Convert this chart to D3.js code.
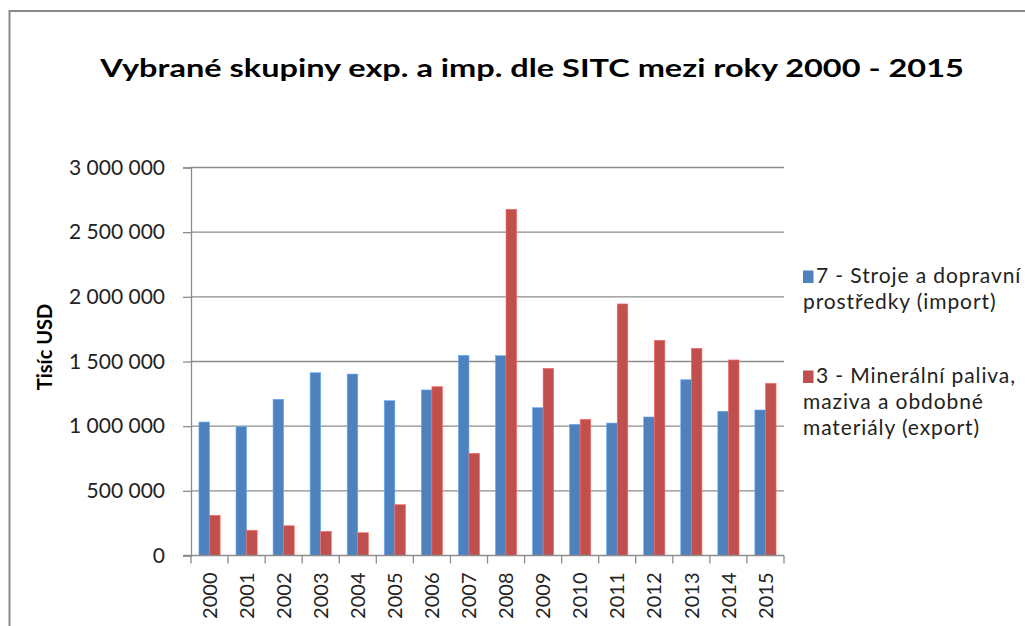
<html>

<head>
    <style>
        body { margin: 0; background: white; }
        text { font-family: Lato, "Open Sans", sans-serif; }
    </style>
</head>

<body>
    <svg id="container" height="626" width="1025">
        <g id="body" transform="translate(0,0)"></g>
    </svg>
</body>
<script src="https://cdn.jsdelivr.net/npm/d3@7"></script>
<script>
    // data (tisíc USD)
    let years = ["2000", "2001", "2002", "2003", "2004", "2005", "2006", "2007",
                 "2008", "2009", "2010", "2011", "2012", "2013", "2014", "2015"]
    let importValues = [1032000, 996000, 1208000, 1413000, 1403000, 1197000, 1280000, 1548000,
                        1545000, 1143000, 1014000, 1024000, 1071000, 1359000, 1115000, 1125000]
    let exportValues = [311000, 195000, 230000, 187000, 176000, 393000, 1305000, 790000,
                        2677000, 1447000, 1053000, 1945000, 1664000, 1602000, 1512000, 1331000]
    let seriesNames = ["import", "export"]
    let seriesColors = ["#4F81BD", "#C0504D"]
    let legendLines = [
        ["7 - Stroje a dopravní", "prostředky (import)"],
        ["3 - Minerální paliva,", "maziva a obdobné", "materiály (export)"]
    ]
    let yTicks = [0, 500000, 1000000, 1500000, 2000000, 2500000, 3000000]

    let body = d3.select("#body")

    // outer chart border (only top and left visible)
    body.append("path")
        .attr("d", "M9.5,626 V11 H1025")
        .attr("fill", "none")
        .attr("stroke", "#8a8a8a")
        .attr("stroke-width", 2)

    // title, stretched a bit to match the wider original face
    body.append("text")
        .attr("transform", "translate(532,77) scale(1.3,1)")
        .attr("text-anchor", "middle")
        .attr("font-size", 25)
        .attr("font-weight", "bold")
        .attr("fill", "#000")
        .text("Vybrané skupiny exp. a imp. dle SITC mezi roky 2000 - 2015")

    let plotL = 191, plotR = 784, plotT = 167.5, plotB = 555.5

    let x = d3.scaleBand().domain(years).range([plotL, plotR])
    let inner = d3.scaleBand().domain(seriesNames)
        .range([0, x.bandwidth()]).paddingInner(0).paddingOuter(0.75)
    let y = d3.scaleLinear().domain([0, 3000000]).range([plotB, plotT])

    let fmt = v => d3.format(",")(v).replace(/,/g, " ")

    // gridlines
    body.append("g").selectAll("line").data(yTicks.slice(1))
        .enter().append("line")
        .attr("x1", plotL).attr("x2", plotR)
        .attr("y1", d => y(d)).attr("y2", d => y(d))
        .attr("stroke", "#8c8c8c").attr("stroke-width", 1.3)

    // y axis
    let yAxis = body.append("g")
        .attr("transform", `translate(${plotL},0)`)
        .call(d3.axisLeft(y).tickValues(yTicks).tickFormat(fmt).tickSize(8).tickPadding(18))
    yAxis.select(".domain").attr("stroke", "#8c8c8c").attr("stroke-width", 1.3)
    yAxis.selectAll(".tick line").attr("stroke", "#8c8c8c").attr("stroke-width", 1.3)
    yAxis.selectAll("text").attr("font-size", 21).attr("fill", "#222")

    body.append("text")
        .attr("transform", "translate(52,347) rotate(-90)")
        .attr("text-anchor", "middle")
        .attr("font-size", 20)
        .attr("font-weight", "bold")
        .attr("fill", "#000")
        .text("Tisíc USD")

    // bars
    let rows = years.map((yr, i) => ({ year: yr, import: importValues[i], export: exportValues[i] }))
    let groups = body.append("g").selectAll("g").data(rows)
        .enter().append("g")
        .attr("transform", d => `translate(${x(d.year)},0)`)
    groups.selectAll("rect")
        .data(d => seriesNames.map((s, j) => ({ key: s, value: d[s], color: seriesColors[j] })))
        .enter().append("rect")
        .attr("x", d => inner(d.key))
        .attr("width", inner.bandwidth())
        .attr("y", d => y(d.value))
        .attr("height", d => y(0) - y(d.value))
        .attr("fill", d => d.color)
        .attr("stroke", d => d3.color(d.color).brighter(0.8))
        .attr("stroke-width", 0.6)

    // x axis
    let xAxis = body.append("g")
        .attr("transform", `translate(0,${plotB})`)
    xAxis.append("line")
        .attr("x1", plotL - 8).attr("x2", plotR)
        .attr("stroke", "#8c8c8c").attr("stroke-width", 1.3)
    let bounds = years.map(d => x(d)).concat([plotR])
    xAxis.selectAll("line.tk").data(bounds)
        .enter().append("line").attr("class", "tk")
        .attr("x1", d => d).attr("x2", d => d)
        .attr("y1", 0).attr("y2", 8)
        .attr("stroke", "#8c8c8c").attr("stroke-width", 1.3)
    xAxis.selectAll("text").data(years)
        .enter().append("text")
        .attr("transform", d => `translate(${x(d) + x.bandwidth() / 2},17) rotate(-90)`)
        .attr("text-anchor", "end")
        .attr("dy", "0.36em")
        .attr("font-size", 20)
        .attr("fill", "#222")
        .text(d => d)

    // legend
    let legendY = [283, 383]
    let legend = body.append("g").selectAll("g").data(legendLines)
        .enter().append("g")
    legend.append("rect")
        .attr("x", 803).attr("y", (d, i) => legendY[i] - 12.5)
        .attr("width", 10.5).attr("height", 12.5)
        .attr("fill", (d, i) => seriesColors[i])
    legend.each(function (lines, i) {
        let t = d3.select(this).append("text")
            .attr("font-size", 21)
            .attr("letter-spacing", 0.9)
            .attr("fill", "#222")
        lines.forEach((ln, k) => {
            t.append("tspan")
                .attr("x", k === 0 ? 816 : 803)
                .attr("y", legendY[i] + k * 26)
                .text(ln)
        })
    })
</script>

</html>
